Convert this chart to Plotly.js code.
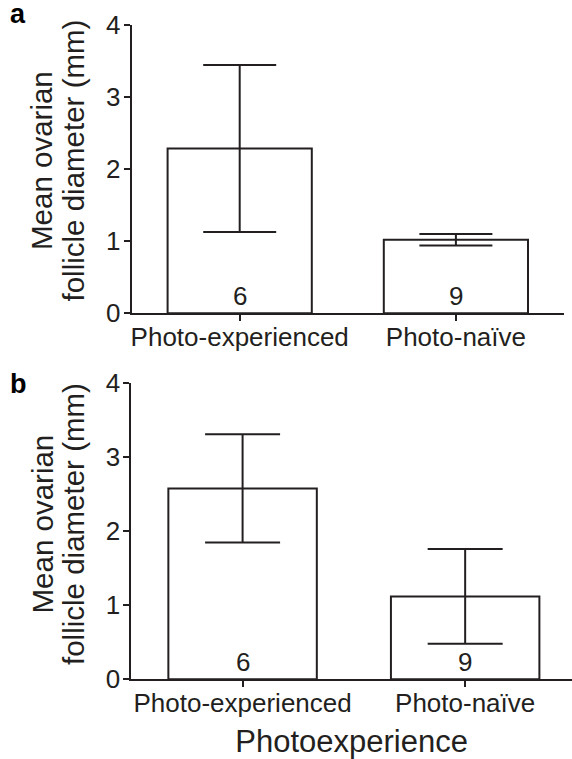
<!DOCTYPE html>
<html>
<head>
<meta charset="utf-8">
<script src="https://cdn.plot.ly/plotly-3.0.1.min.js"></script>
<style>
  html, body { margin: 0; padding: 0; background: #ffffff; }
  #chart { width: 572px; height: 759px; }
</style>
</head>
<body>
<div id="chart"></div>
<script>
// ---- data ----
const categories = ["Photo-experienced", "Photo-naïve"];
const panelAMeans = [2.29, 1.02];
const panelAErrors = [1.16, 0.08];
const panelACounts = ["6", "9"];
const panelBMeans = [2.58, 1.12];
const panelBErrors = [0.73, 0.64];
const panelBCounts = ["6", "9"];
const yTickValues = [0, 1, 2, 3, 4];
const yTickLabels = ["0", "1", "2", "3", "4"];
const yTitleLine1 = "Mean ovarian";
const yTitleLine2 = "follicle diameter (mm)";
const xTitleB = "Photoexperience";
const panelLabels = ["a", "b"];

// ---- style ----
const W = 572, H = 759;
const ink = "#231f20";
const FONT = "Liberation Sans, Arial, Helvetica, sans-serif";
const px = (x) => x / W;            // pixel x -> paper
const py = (y) => (H - y) / H;      // pixel y (from top) -> paper

function barTrace(means, errs, xa, ya, capHalf) {
  return {
    type: "bar",
    x: categories,
    y: means,
    xaxis: xa,
    yaxis: ya,
    width: 0.667,
    marker: { color: "#ffffff", line: { color: ink, width: 2 } },
    error_y: { type: "data", array: errs, visible: true, color: ink, thickness: 2, width: capHalf },
    hoverinfo: "skip",
    showlegend: false
  };
}

const data = [
  barTrace(panelAMeans, panelAErrors, "x", "y", 36.5),
  barTrace(panelBMeans, panelBErrors, "x2", "y2", 37.5)
];

function yAxis(domain, anchor) {
  return {
    domain: domain,
    anchor: anchor,
    range: [0, 4],
    tickvals: yTickValues,
    ticktext: yTickLabels,
    ticks: "outside",
    ticklen: 6,
    tickwidth: 2,
    tickcolor: ink,
    ticklabelstandoff: -2,
    showline: true,
    linewidth: 2,
    linecolor: ink,
    showgrid: false,
    zeroline: false,
    tickfont: { family: FONT, size: 26, color: ink },
    fixedrange: true
  };
}

function xAxis(domain, anchor, range, title) {
  const ax = {
    domain: domain,
    anchor: anchor,
    type: "category",
    range: range,
    ticks: "outside",
    ticklen: 6,
    tickwidth: 2,
    tickcolor: ink,
    ticklabelstandoff: -7,
    showline: true,
    linewidth: 2,
    linecolor: ink,
    showgrid: false,
    zeroline: false,
    tickfont: { family: FONT, size: 26, color: ink },
    fixedrange: true
  };
  if (title) {
    ax.title = { text: title, font: { family: FONT, size: 31, color: ink }, standoff: 14 };
  }
  return ax;
}

const annotations = [];
function countLabels(counts, xa, ya) {
  counts.forEach((c, i) => {
    annotations.push({
      x: categories[i], y: 0, xref: xa, yref: ya,
      text: c, showarrow: false, xanchor: "center", yanchor: "bottom",
      yshift: 0,
      font: { family: FONT, size: 26, color: ink }
    });
  });
}
countLabels(panelACounts, "x", "y");
countLabels(panelBCounts, "x2", "y2");

function yTitle(centerY) {
  annotations.push({
    xref: "paper", yref: "paper", x: px(41.5), y: py(centerY),
    text: yTitleLine1, textangle: -90, showarrow: false,
    xanchor: "center", yanchor: "middle",
    font: { family: FONT, size: 29.5, color: ink }
  });
  annotations.push({
    xref: "paper", yref: "paper", x: px(73), y: py(centerY),
    text: yTitleLine2, textangle: -90, showarrow: false,
    xanchor: "center", yanchor: "middle",
    font: { family: FONT, size: 29.5, color: ink }
  });
}
yTitle(160.5);
yTitle(524);

annotations.push({
  xref: "paper", yref: "paper", x: px(8), y: py(31), text: "<b>" + panelLabels[0] + "</b>",
  showarrow: false, xanchor: "left", yanchor: "bottom",
  font: { family: FONT, size: 27, color: "#000000" }
});
annotations.push({
  xref: "paper", yref: "paper", x: px(8), y: py(401), text: "<b>" + panelLabels[1] + "</b>",
  showarrow: false, xanchor: "left", yanchor: "bottom",
  font: { family: FONT, size: 27, color: "#000000" }
});

const layout = {
  width: W,
  height: H,
  margin: { l: 0, r: 0, t: 0, b: 0, pad: 0 },
  paper_bgcolor: "#ffffff",
  plot_bgcolor: "#ffffff",
  showlegend: false,
  font: { family: FONT, color: ink },
  xaxis: xAxis([px(131.6), px(564)], "y", [-0.5, 1.5], null),
  yaxis: yAxis([py(313.3), py(25.3)], "x"),
  xaxis2: xAxis([px(131.3), 1], "y2", [-0.5, 1.48], xTitleB),
  yaxis2: yAxis([py(679.3), py(383.3)], "x2"),
  annotations: annotations
};

Plotly.newPlot("chart", data, layout, { displayModeBar: false, staticPlot: true });
</script>
</body>
</html>
